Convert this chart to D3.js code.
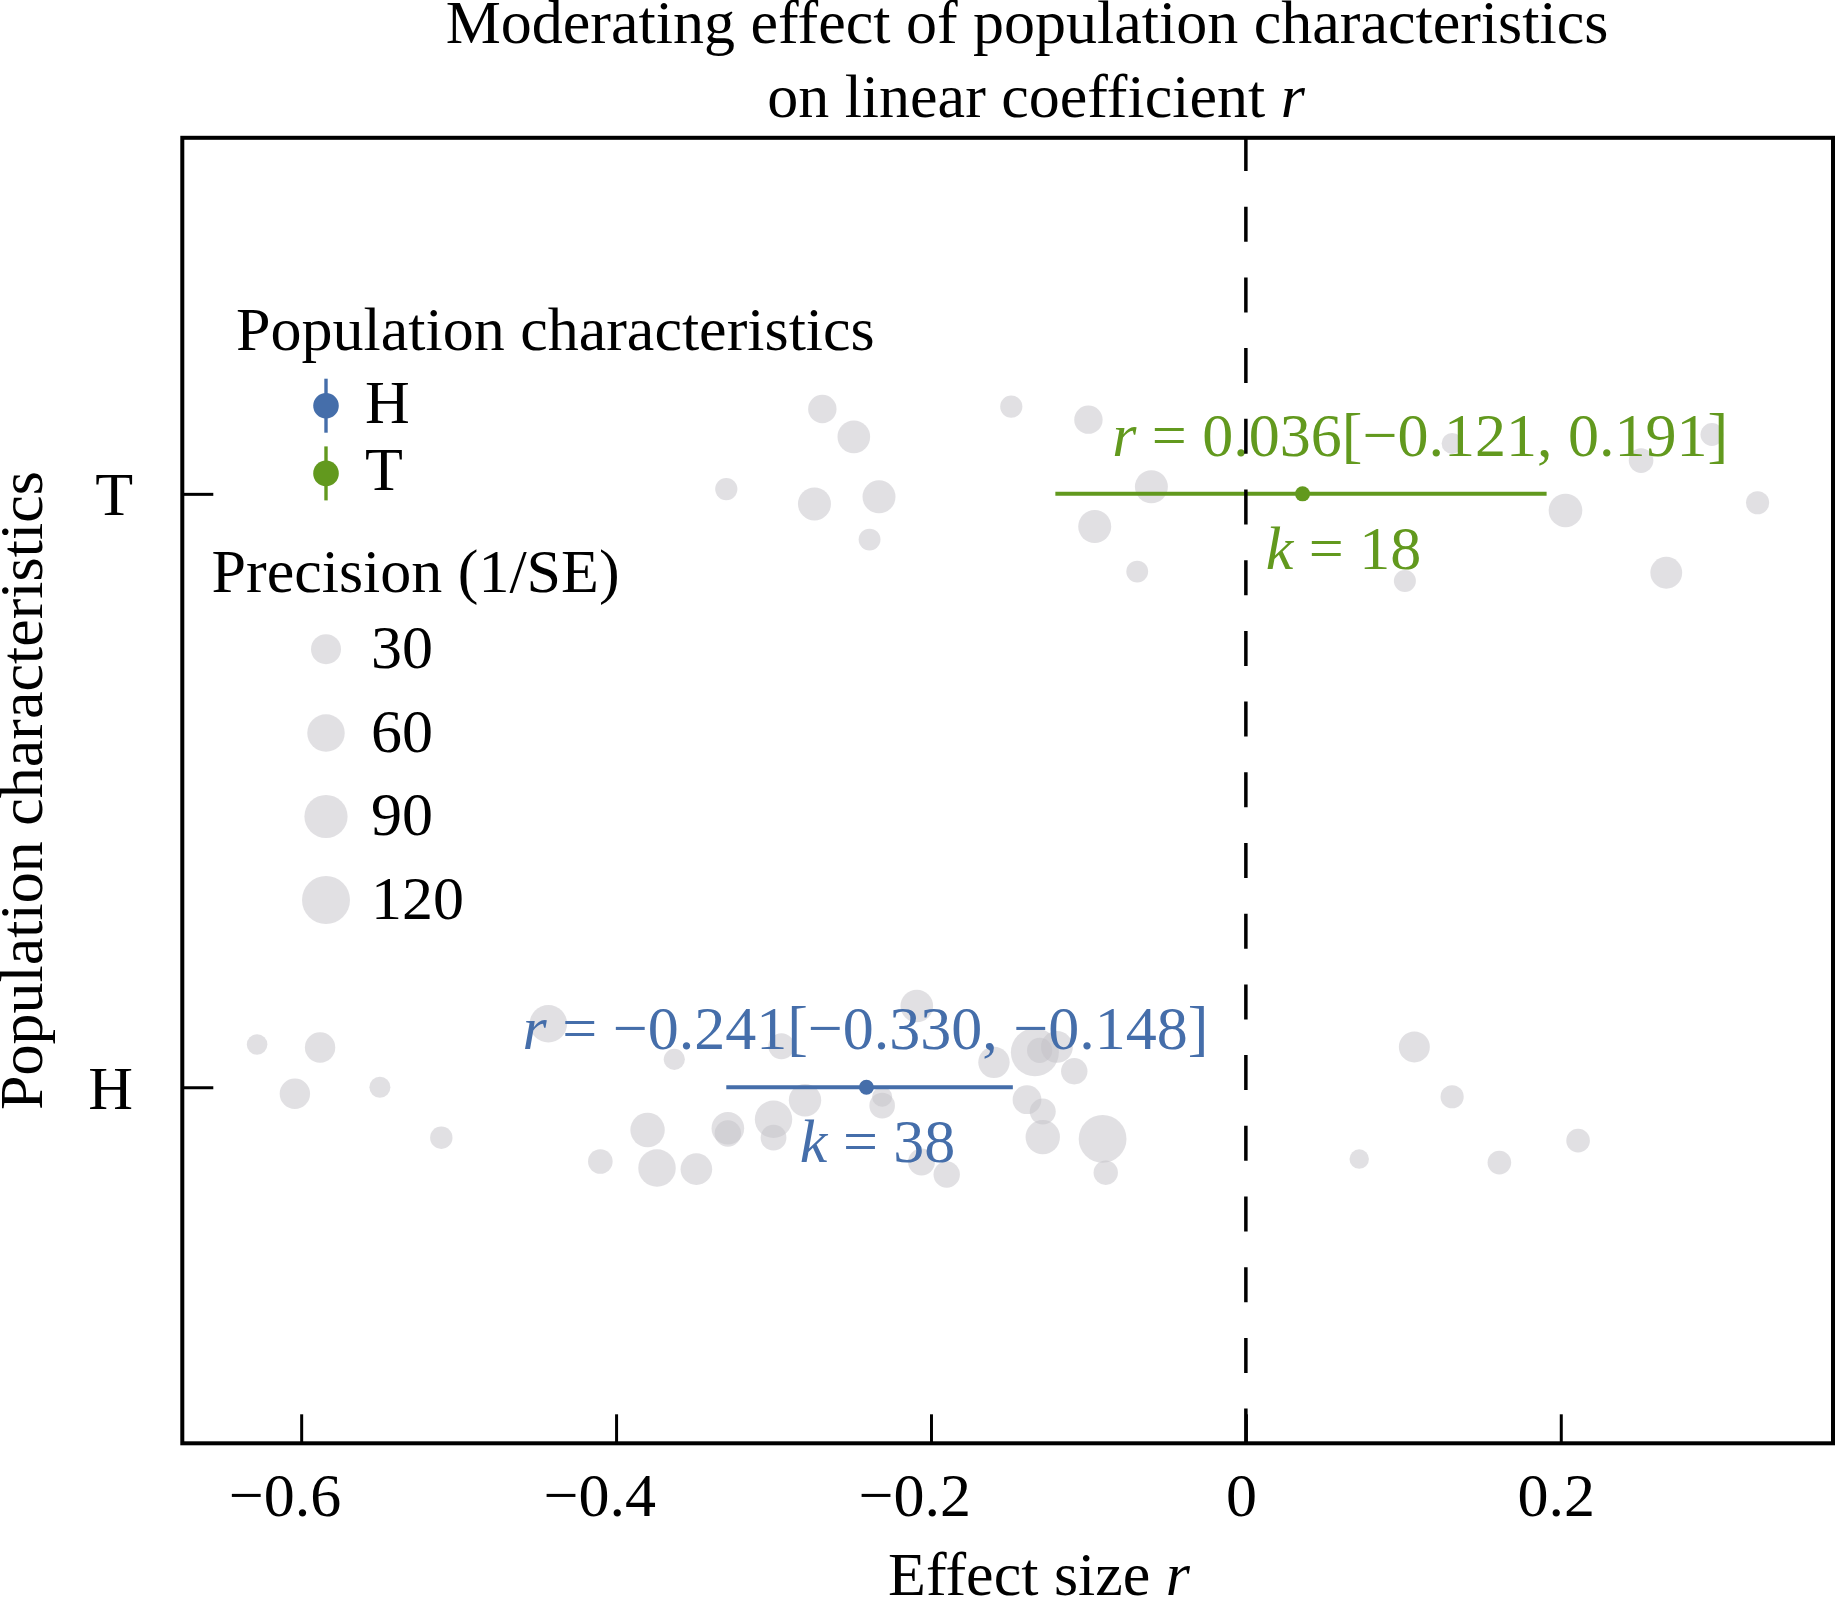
<!DOCTYPE html>
<html><head><meta charset="utf-8">
<script src="https://cdn.jsdelivr.net/npm/d3@7"></script>
<style>
body{margin:0;background:#fff;}
svg text{font-family:"Liberation Serif","Times New Roman",Times,serif;}
</style>
</head><body>
<svg id="chart" width="1836" height="1602"></svg>
<script>
// ---------- data ----------
const categories = ["H", "T"];
const groupColors = ["#456eaa", "#62991e"];
const estimates = [-0.241, 0.036];
const ciLower = [-0.330, -0.121];
const ciUpper = [-0.148, 0.191];
const studyCounts = [38, 18];
const estimateLabels = ["−0.241[−0.330, −0.148]", "0.036[−0.121, 0.191]"];
const labelPosX = [-0.2416, 0.1107];   // where the r-label is centred (effect units)
const kLabelPosX = [-0.2339, 0.0620];  // where the k-label is centred
const xTicks = [-0.6, -0.4, -0.2, 0, 0.2];
const xTickLabels = ["−0.6", "−0.4", "−0.2", "0", "0.2"];
const sizeLegendValues = [30, 60, 90, 120];

// study-level effects, group T
const tEffect = [-0.269, -0.249, -0.330, -0.274, -0.233, -0.239, -0.149, -0.100, -0.060, -0.096, -0.069, 0.131, 0.251, 0.296, 0.203, 0.325, 0.101, 0.267];
const tPrecision = [24.9, 39.3, 9.6, 40.8, 40.8, 8.9, 9.6, 24.9, 40.8, 40.8, 8.9, 7.5, 14.7, 10.8, 43.2, 11.6, 9.3, 36.3];
const tJitter = [0.143, 0.096, 0.008, -0.017, -0.005, -0.077, 0.147, 0.125, 0.012, -0.055, -0.131, 0.085, 0.056, 0.100, -0.028, -0.015, -0.147, -0.133];

// study-level effects, group H
const hEffect = [-0.628, -0.588, -0.604, -0.550, -0.511, -0.443, -0.363, -0.380, -0.410, -0.374, -0.349, -0.329, -0.329, -0.300, -0.300, -0.280, -0.295, -0.209, -0.160, -0.134, -0.131, -0.120, -0.109, -0.231, -0.231, -0.139, -0.129, -0.129, -0.091, -0.089, -0.206, -0.190, 0.107, 0.131, 0.072, 0.161, 0.211];
const hPrecision = [6.8, 31.3, 31.3, 7.5, 10.0, 60.2, 7.8, 46.5, 14.7, 60.2, 35.6, 39.3, 19.2, 59.7, 17.6, 38.5, 18.1, 39.3, 34.8, 120, 16.1, 36.3, 19.2, 17.1, 6.0, 26.1, 18.1, 46.5, 118.7, 14.2, 20.3, 19.2, 33.4, 11.6, 5.1, 12.5, 12.5];
const hJitter = [0.072, 0.067, -0.011, 0.000, -0.085, 0.107, 0.047, -0.072, -0.125, -0.136, -0.138, -0.069, -0.078, -0.054, -0.085, -0.022, 0.069, 0.137, 0.042, 0.059, 0.062, 0.068, 0.027, -0.031, -0.016, -0.021, -0.041, -0.084, -0.087, -0.144, -0.126, -0.147, 0.068, -0.016, -0.121, -0.127, -0.090];

// ---------- layout ----------
const FS = 62;
const FONT = '"Liberation Serif","Times New Roman",Times,serif';
const panel = {left: 182.3, right: 1833, top: 137.8, bottom: 1443.3};
const pointFill = "#c3c2c8";
const pointOpacity = 0.5;

const x = d3.scaleLinear().domain([-0.6755, 0.3729]).range([panel.left, panel.right]);
const y = d3.scaleLinear().domain([0.4, 2.6]).range([panel.bottom, panel.top]);
const size = d3.scaleSqrt().domain([0, 120]).range([6, 24]);
const catPos = c => categories.indexOf(c) + 1;

const svg = d3.select("#chart");
svg.append("rect").attr("width", 1836).attr("height", 1602).attr("fill", "#fff");

// study points
const studies = [];
hEffect.forEach((e, i) => studies.push({g: "H", e, p: hPrecision[i], j: hJitter[i]}));
tEffect.forEach((e, i) => studies.push({g: "T", e, p: tPrecision[i], j: tJitter[i]}));

svg.append("g").selectAll("circle").data(studies).join("circle")
  .attr("cx", d => x(d.e))
  .attr("cy", d => y(catPos(d.g) + d.j))
  .attr("r", d => size(d.p))
  .attr("fill", pointFill)
  .attr("fill-opacity", pointOpacity);

// summary estimates
const summary = categories.map((c, i) => ({c, i, est: estimates[i], lo: ciLower[i], hi: ciUpper[i], k: studyCounts[i], lab: estimateLabels[i]}));
const sg = svg.append("g");
sg.selectAll("line").data(summary).join("line")
  .attr("x1", d => x(d.lo)).attr("x2", d => x(d.hi))
  .attr("y1", d => y(catPos(d.c))).attr("y2", d => y(catPos(d.c)))
  .attr("stroke", d => groupColors[d.i]).attr("stroke-width", 4);
sg.selectAll("circle").data(summary).join("circle")
  .attr("cx", d => x(d.est)).attr("cy", d => y(catPos(d.c)))
  .attr("r", 7.5).attr("fill", d => groupColors[d.i]);

// r labels
const rl = sg.selectAll("text.rlab").data(summary).join("text").attr("class", "rlab")
  .attr("x", d => x(labelPosX[d.i])).attr("y", d => y(catPos(d.c)) - 38)
  .attr("text-anchor", "middle").attr("font-size", FS).attr("fill", d => groupColors[d.i]);
rl.append("tspan").attr("font-style", "italic").text("r");
rl.append("tspan").text(d => " = " + d.lab);

// k labels
const kl = sg.selectAll("text.klab").data(summary).join("text").attr("class", "klab")
  .attr("x", d => x(kLabelPosX[d.i])).attr("y", d => y(catPos(d.c)) + 75)
  .attr("text-anchor", "middle").attr("font-size", FS).attr("fill", d => groupColors[d.i]);
kl.append("tspan").attr("font-style", "italic").text("k");
kl.append("tspan").text(d => " = " + d.k);

// zero reference line
svg.append("line")
  .attr("x1", x(0)).attr("x2", x(0)).attr("y1", y(2.6)).attr("y2", y(0.4))
  .attr("stroke", "#000").attr("stroke-width", 3.5)
  .attr("stroke-dasharray", "35,35.7").attr("stroke-dashoffset", 1.8);

// axes
const xAxis = d3.axisBottom(x).tickValues(xTicks)
  .tickFormat((d, i) => xTickLabels[i]).tickSize(-29).tickPadding(28.7);
svg.append("g").attr("transform", `translate(0,${panel.bottom})`).call(xAxis)
  .attr("font-size", FS).attr("font-family", FONT)
  .call(g => g.select(".domain").remove())
  .call(g => g.selectAll("line").attr("stroke", "#000").attr("stroke-width", 3))
  .call(g => g.selectAll("text").attr("fill", "#000")
    .attr("dx", d => d < 0 ? "-0.27em" : "-0.08em"));

const yAxis = d3.axisLeft(y).tickValues([1, 2])
  .tickFormat(d => categories[d - 1]).tickSize(-31).tickPadding(49.3);
svg.append("g").attr("transform", `translate(${panel.left},0)`).call(yAxis)
  .attr("font-size", FS).attr("font-family", FONT)
  .call(g => g.select(".domain").remove())
  .call(g => g.selectAll("line").attr("stroke", "#000").attr("stroke-width", 3))
  .call(g => g.selectAll("text").attr("fill", "#000").attr("dy", "0.34em"));

// panel border
svg.append("rect")
  .attr("x", panel.left).attr("y", panel.top)
  .attr("width", panel.right - panel.left).attr("height", panel.bottom - panel.top)
  .attr("fill", "none").attr("stroke", "#000").attr("stroke-width", 4);

// titles
svg.append("text").attr("x", 1027).attr("y", 43).attr("text-anchor", "middle")
  .attr("font-size", FS).text("Moderating effect of population characteristics");
const t2 = svg.append("text").attr("x", 1036).attr("y", 117).attr("text-anchor", "middle").attr("font-size", FS);
t2.append("tspan").text("on linear coefficient ");
t2.append("tspan").attr("font-style", "italic").text("r");

const xt = svg.append("text").attr("x", 1039).attr("y", 1595).attr("text-anchor", "middle").attr("font-size", FS);
xt.append("tspan").text("Effect size ");
xt.append("tspan").attr("font-style", "italic").text("r");

svg.append("text").attr("transform", `translate(42,${(panel.top + panel.bottom) / 2}) rotate(-90)`)
  .attr("text-anchor", "middle").attr("font-size", FS).text("Population characteristics");

// legend: groups
const lg = svg.append("g");
lg.append("text").attr("x", 236).attr("y", 350).attr("font-size", FS).text("Population characteristics");
const keyY = [405.7, 473.4];
categories.forEach((c, i) => {
  lg.append("line").attr("x1", 326).attr("x2", 326).attr("y1", keyY[i] - 27).attr("y2", keyY[i] + 27)
    .attr("stroke", groupColors[i]).attr("stroke-width", 3.4);
  lg.append("circle").attr("cx", 326).attr("cy", keyY[i]).attr("r", 12.8).attr("fill", groupColors[i]);
  lg.append("text").attr("x", 365).attr("y", keyY[i] + 17).attr("font-size", FS).text(c);
});

// legend: precision sizes
lg.append("text").attr("x", 211.5).attr("y", 591.5).attr("font-size", FS).text("Precision (1/SE)");
const sizeY = [649.2, 733, 816.5, 900];
sizeLegendValues.forEach((v, i) => {
  lg.append("circle").attr("cx", 326).attr("cy", sizeY[i]).attr("r", size(v))
    .attr("fill", pointFill).attr("fill-opacity", pointOpacity);
  lg.append("text").attr("x", 371).attr("y", sizeY[i] + 18.5).attr("font-size", FS).text(v);
});
</script>
</body></html>
